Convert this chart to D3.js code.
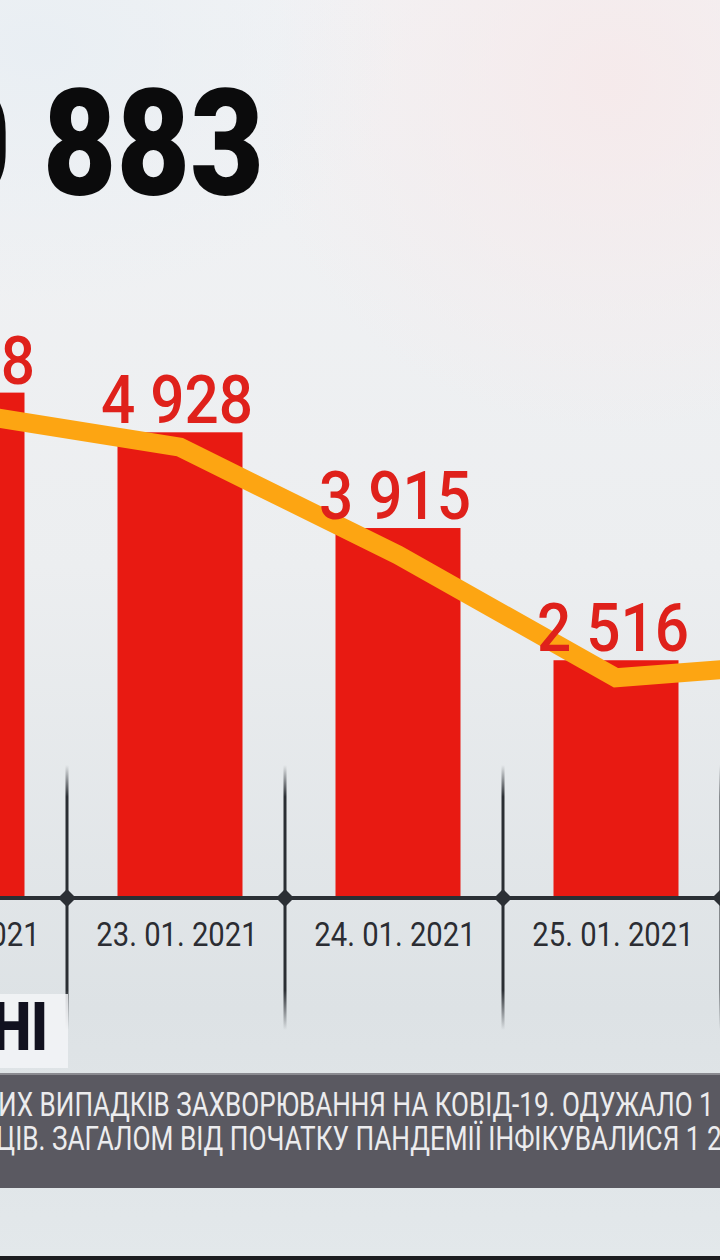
<!DOCTYPE html>
<html><head><meta charset="utf-8">
<script src="https://cdn.jsdelivr.net/npm/d3@7/dist/d3.min.js"></script>
<style>html,body{margin:0;padding:0;overflow:hidden;background:#eef0f2}svg{display:block}</style>
</head><body>
<svg id="c" width="720" height="1260"></svg>
<script>
// ---- data ----
const dates = ["22. 01. 2021", "23. 01. 2021", "24. 01. 2021", "25. 01. 2021", "26. 01. 2021"];
const cases = [5348, 4928, 3915, 2516, null];
const trend = [5140, 4770, 3630, 2330, 2510];
const headline = "10 883";
const sectionTitle = "В УКРАЇНІ";
const tickerLines = [
  "ИХ ВИПАДКІВ ЗАХВОРЮВАННЯ НА КОВІД-19. ОДУЖАЛО 1",
  "ЦІВ. ЗАГАЛОМ ВІД ПОЧАТКУ ПАНДЕМІЇ ІНФІКУВАЛИСЯ 1 2"
];

const W = 720, H = 1260;
const svg = d3.select("#c");
const defs = svg.append("defs");

// background
const bg = defs.append("linearGradient").attr("id","bg").attr("x1",0).attr("y1",0).attr("x2",0).attr("y2",1);
bg.append("stop").attr("offset","0").attr("stop-color","#f2f3f5");
bg.append("stop").attr("offset","0.45").attr("stop-color","#eceef0");
bg.append("stop").attr("offset","0.8").attr("stop-color","#dde2e5");
bg.append("stop").attr("offset","1").attr("stop-color","#e3e8eb");
svg.append("rect").attr("width",W).attr("height",H).attr("fill","url(#bg)");
const pink = defs.append("radialGradient").attr("id","pink").attr("cx",0.85).attr("cy",0.12).attr("r",0.5);
pink.append("stop").attr("offset","0").attr("stop-color","#f6e9ea").attr("stop-opacity",0.9);
pink.append("stop").attr("offset","1").attr("stop-color","#f6e9ea").attr("stop-opacity",0);
svg.append("rect").attr("width",W).attr("height",700).attr("fill","url(#pink)");
const blu = defs.append("radialGradient").attr("id","blu").attr("cx",0.05).attr("cy",0.1).attr("r",0.5);
blu.append("stop").attr("offset","0").attr("stop-color","#e8eef3").attr("stop-opacity",0.9);
blu.append("stop").attr("offset","1").attr("stop-color","#e8eef3").attr("stop-opacity",0);
svg.append("rect").attr("width",W).attr("height",500).attr("fill","url(#blu)");

// scales
const x = d3.scaleBand().domain(dates).range([-147, 943]).paddingInner(0.4266).paddingOuter(0.2133);
const y = d3.scaleLinear().domain([0, 6000]).range([898, 331]);
const baseY = y(0);
const step = x.step();
const fmt = d3.formatLocale({thousands:" ", grouping:[3], decimal:",", currency:["",""]}).format(",d");

// headline
const hg = svg.append("g").attr("transform","translate(264,195) scale(0.86,1)");
hg.append("text").attr("text-anchor","end").attr("font-family","Roboto").attr("font-weight",900)
  .attr("font-size",148).attr("fill","#0b0b0c").text(headline);

// vertical separators
const tg = defs.append("linearGradient").attr("id","tickg").attr("gradientUnits","userSpaceOnUse")
  .attr("x1",0).attr("y1",765).attr("x2",0).attr("y2",1030);
tg.append("stop").attr("offset","0").attr("stop-color","#2a2e33").attr("stop-opacity",0);
tg.append("stop").attr("offset","0.12").attr("stop-color","#2a2e33").attr("stop-opacity",1);
tg.append("stop").attr("offset","0.85").attr("stop-color","#2a2e33").attr("stop-opacity",1);
tg.append("stop").attr("offset","1").attr("stop-color","#2a2e33").attr("stop-opacity",0);
const sepX = dates.map(d => x(d) - step*x.paddingInner()/2 - 4);
svg.append("g").selectAll("rect").data(sepX).join("rect")
  .attr("x", d => d - 1.5).attr("y",765).attr("width",3).attr("height",265).attr("fill","url(#tickg)");

// bars
svg.append("g").selectAll("rect").data(dates.map((d,i)=>({d,v:cases[i]})).filter(o=>o.v!=null)).join("rect")
  .attr("x", o => x(o.d)).attr("y", o => y(o.v)).attr("width", x.bandwidth()).attr("height", o => baseY - y(o.v))
  .attr("fill","#e81a12");

// baseline
svg.append("rect").attr("x",0).attr("y",baseY-2).attr("width",W).attr("height",4).attr("fill","#2b2f34");
svg.append("g").selectAll("path").data(sepX).join("path")
  .attr("d", d => `M${d},${baseY-9} L${d+9},${baseY} L${d},${baseY+9} L${d-9},${baseY} Z`).attr("fill","#2b2f34");

// trend line
const line = d3.line().x((d,i) => x(dates[i]) + x.bandwidth()/2).y(d => y(d));
svg.append("path").attr("d", line(trend)).attr("fill","none").attr("stroke","#fda512")
  .attr("stroke-width",19).attr("stroke-linejoin","miter");

// value labels
svg.append("g").selectAll("g").data(dates.map((d,i)=>({d,v:cases[i]})).filter(o=>o.v!=null)).join("g")
  .attr("transform", o => `translate(${x(o.d)+x.bandwidth()/2-3},${y(o.v)-9}) scale(0.9,1)`)
  .append("text").attr("text-anchor","middle").attr("font-family","Roboto").attr("font-weight",500)
  .attr("font-size",67).attr("fill","#df211b").text(o => fmt(o.v));

// date labels
svg.append("g").selectAll("g").data(dates).join("g")
  .attr("transform", d => `translate(${x(d)+x.bandwidth()/2-3},946) scale(0.86,1)`)
  .append("text").attr("text-anchor","middle").attr("font-family","Roboto").attr("font-weight",400)
  .attr("font-size",34).attr("fill","#2b2d33").text(d => d);

// section title box
svg.append("rect").attr("x",-5).attr("y",994).attr("width",73).attr("height",74).attr("fill","#f3f5f7").attr("opacity",0.85);
const sg = svg.append("g").attr("transform","translate(48,1050) scale(0.85,1)");
sg.append("text").attr("text-anchor","end").attr("font-family","Roboto").attr("font-weight",900)
  .attr("font-size",66).attr("fill","#11111f").text(sectionTitle);

// ticker
svg.append("rect").attr("x",0).attr("y",1073).attr("width",W).attr("height",115).attr("fill","#5a5961");
svg.append("rect").attr("x",0).attr("y",1073).attr("width",W).attr("height",2).attr("fill","#8a8a90");
const tk = svg.append("g");
const tx = [-2, -4], ty = [1116, 1150], tw = [716, 726];
tickerLines.forEach((t,i) => {
  const g = tk.append("g");
  const el = g.append("text").attr("font-family","Roboto").attr("font-weight",400).attr("font-size",33)
    .attr("fill","#ececee").text(t);
  const len = el.node().getComputedTextLength();
  g.attr("transform", `translate(${tx[i]},${ty[i]}) scale(${tw[i]/len},1)`);
});

// bottom strip
svg.append("rect").attr("x",0).attr("y",1256).attr("width",W).attr("height",4).attr("fill","#1c1d20");
</script>
</body></html>
